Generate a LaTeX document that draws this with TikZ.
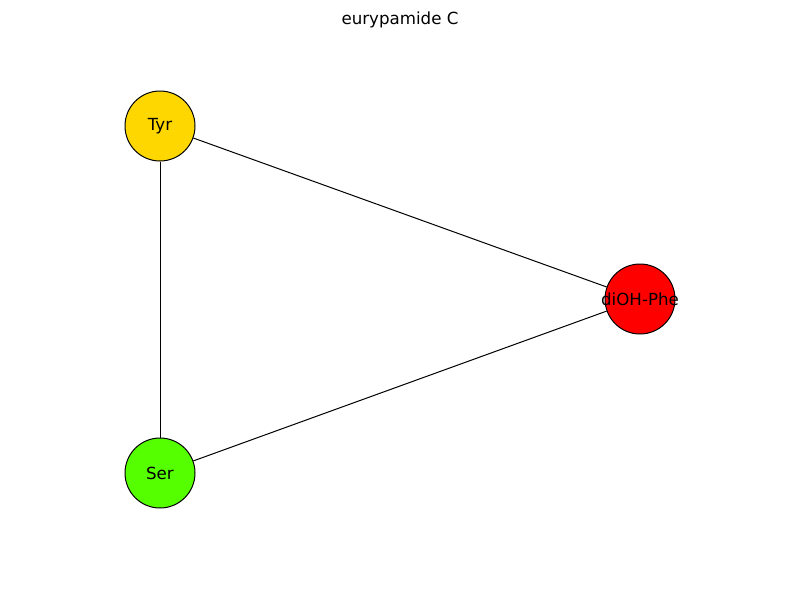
\documentclass[tikz,border=0pt]{standalone}
\usepackage{fontspec}
\setmainfont{DejaVu Sans}
\usetikzlibrary{positioning}
\definecolor{tyrcol}{RGB}{255,215,0}
\definecolor{sercol}{RGB}{85,255,0}
\definecolor{phecol}{RGB}{255,0,0}
\newcommand{\reslabel}[1]{\makebox[0pt]{#1}}
\tikzset{
  residue/.style={circle, draw=black, line width=0.75pt, minimum size=52.5pt, inner sep=0pt, font=\fontsize{12.5}{15}\selectfont},
  bond/.style={line width=0.75pt, black}
}

\begin{document}
\begin{tikzpicture}[x=0.75pt, y=-0.75pt]
\useasboundingbox (0,0) rectangle (800,600);
\node[font=\fontsize{12.5}{15}\selectfont] (title) at (400,20) {eurypamide C};

% residues
\node[residue, fill=tyrcol] (tyr) at (160,126) {\reslabel{Tyr}};
\node[residue, fill=phecol] (phe) at (640,299) {\reslabel{diOH-Phe}};
\node[residue, fill=sercol] (ser) at (160,473) {\reslabel{Ser}};

% bonds
\draw[bond] (tyr) -- (phe);
\draw[bond] (tyr) -- (ser);
\draw[bond] (ser) -- (phe);
\end{tikzpicture}
\end{document}
